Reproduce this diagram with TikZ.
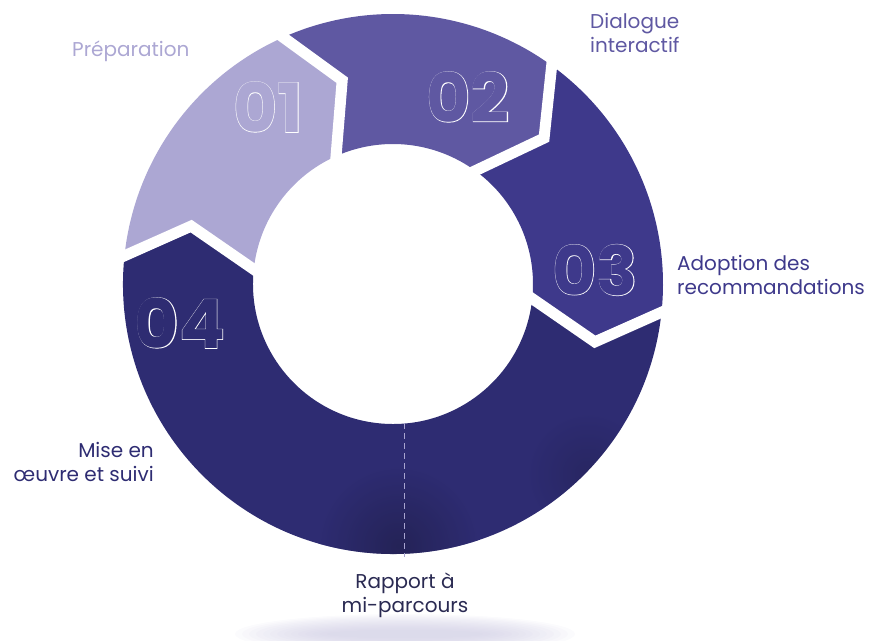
\documentclass[tikz,border=0pt]{standalone}
\usepackage{fontspec}
\setmainfont{Poppins}
\newfontfamily\numfont{Poppins Bold}
\newfontfamily\numfontrim{Poppins Bold}[FakeBold=1.5]
\usetikzlibrary{calc}
\usetikzlibrary{positioning}
\definecolor{stepone}{HTML}{ACA7D3}
\definecolor{steptwo}{HTML}{5F58A2}
\definecolor{stepthree}{HTML}{3E398B}
\definecolor{stepfour}{HTML}{2E2C72}
\definecolor{reportc}{HTML}{2A2A52}
\definecolor{dashc}{HTML}{A9A5D0}
\definecolor{shadowc}{HTML}{C9C6E0}
\definecolor{grainc}{HTML}{1E1D45}
\newcommand\ringpart[3]{
  \fill[#1] (#2:\outerr) arc[start angle=#2,end angle=#3,radius=\outerr]
    -- ({#3-10}:\tipr) -- (#3:\innerr)
    arc[start angle=#3,end angle=#2,radius=\innerr]
    -- ({#2-10}:\tipr) -- cycle;
}
\newcommand\steplabel[4]{
  \node[white,font=\numfontrim\fontsize{68}{68}\selectfont] (#1rim) at (#2) {#4};
  \node[#3,font=\numfont\fontsize{68}{68}\selectfont] (#1) at (#2) {#4};
}
\tikzset{
  phase/.style={inner sep=0pt,font=\fontsize{20}{24}\selectfont},
}

\begin{document}
\begin{tikzpicture}[x=1pt,y=1pt]
  %
  \newcommand\outerr{270}
  \newcommand\innerr{140}
  \newcommand\tipr{210}
  \useasboundingbox (-393,-356) rectangle (477,284);

  % shadow under the ring
  \foreach \k in {0,...,13} {
    \fill[shadowc,opacity=0.07] (12,-350) ellipse[x radius=170-7*\k,y radius=20-1.2*\k];
  }

  \ringpart{stepone}{174}{114}
  \ringpart{steptwo}{114}{54}
  \ringpart{stepthree}{54}{-6}
  \ringpart{stepfour}{-6}{-186}

  % darker grain near the bottom
  \begin{scope}
    \clip (0,0) circle[radius=\outerr];
    \shade[inner color=grainc,outer color=stepfour,opacity=0.6] (5,-262) circle[radius=80];
    \shade[inner color=grainc,outer color=stepfour,opacity=0.35] (195,-190) circle[radius=60];
  \end{scope}

  % gaps between the parts
  \foreach \a in {174,114,54,-6} {
    \draw[white,line width=11pt,line join=miter]
      ($({\a-10}:\tipr)!1.2!(\a:\outerr)$) -- ({\a-10}:\tipr)
      -- ($({\a-10}:\tipr)!1.3!(\a:\innerr)$);
  }

  \steplabel{one}{-125,177}{stepone}{01}
  \steplabel{two}{75,187}{steptwo}{02}
  \steplabel{three}{202,14}{stepthree}{03}
  \steplabel{four}{-213,-39}{stepfour}{04}

  % mid-term report mark
  \coordinate (midin) at (11,-139);
  \coordinate (midout) at (11,-273);
  \draw[dashc,line width=0.8pt,dash pattern=on 6pt off 4pt] (midin) -- (midout);

  \node[phase,stepone,anchor=base west] (prep) at (-321,227) {Préparation};
  \node[phase,steptwo,anchor=base west,align=left] (dialog) at (197,231) {Dialogue\\interactif};
  \node[phase,stepthree,anchor=base west,align=left] (adopt) at (284,-10) {Adoption des\\recommandations};
  \node[phase,stepfour,anchor=base east,align=right] (follow) at (-239,-197) {Mise en\\œuvre et suivi};
  \node[phase,reportc,anchor=base,align=center] (report) at (12,-328) {Rapport à\\mi-parcours};

\end{tikzpicture}
\end{document}
